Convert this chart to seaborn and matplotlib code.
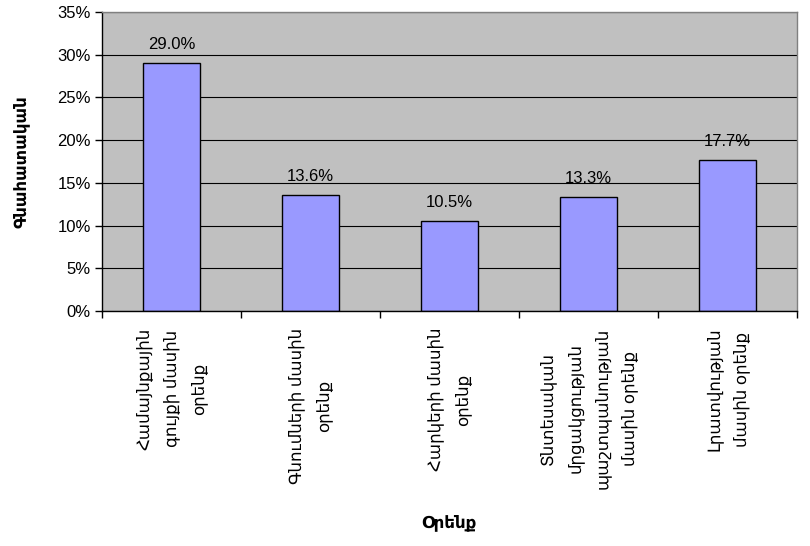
import matplotlib
matplotlib.use("Agg")
import matplotlib.pyplot as plt
import seaborn as sns
import pandas as pd
from matplotlib.ticker import PercentFormatter, FixedLocator

# Laws surveyed and the share of ratings each received (%)
laws = [
    "Համայնքային\nգույքի մասին\nօրենք",
    "Գնումների մասին\nօրենք",
    "Հարկերի մասին\nօրենք",
    "Տնտեսական\nմրցակցության\nպաշտպանության\nմասին օրենք",
    "Լրատվության\nմասին օրենք",
]
shares = [29.0, 13.6, 10.5, 13.3, 17.7]
y_ticks = [0, 5, 10, 15, 20, 25, 30, 35]
x_title = "Օրենք"
y_title = "Գնահատական"

sns.set_theme(style="white")
plt.rcParams["font.family"] = ["Liberation Sans", "DejaVu Sans"]
plt.rcParams.update({
    "text.color": "black",
    "axes.labelcolor": "black",
    "xtick.color": "black",
    "ytick.color": "black",
})

fig = plt.figure(figsize=(8.1, 5.46), dpi=100)
ax = fig.add_axes([102 / 810, 1 - 311 / 546, 695 / 810, 299 / 546])

df = pd.DataFrame({"law": laws, "share": shares})
sns.barplot(data=df, x="law", y="share", color="#9999FF", saturation=1,
            edgecolor="black", linewidth=1, width=0.41, ax=ax)

ax.set_facecolor("#C0C0C0")
ax.set_xlim(-0.5, len(laws) - 0.5)
ax.set_ylim(y_ticks[0], y_ticks[-1])
ax.set_yticks(y_ticks)
ax.yaxis.set_major_formatter(PercentFormatter(decimals=0))
ax.grid(axis="y", color="black", linewidth=0.8)
ax.set_axisbelow(True)

for side in ["left", "bottom"]:
    ax.spines[side].set_color("black")
    ax.spines[side].set_linewidth(1)
for side in ["top", "right"]:
    ax.spines[side].set_color("#808080")
    ax.spines[side].set_linewidth(1)

# category labels at bar centres, tick marks between categories
ax.set_xticks(range(len(laws)))
ax.set_xticklabels(laws, rotation=90, fontsize=12, va="top", ha="center",
                   multialignment="center", linespacing=1.8, color="black")
ax.xaxis.set_minor_locator(FixedLocator([i - 0.5 for i in range(len(laws) + 1)]))
ax.tick_params(axis="x", which="major", length=0, pad=12)
ax.tick_params(axis="x", which="minor", length=5, width=1, color="black",
               direction="out", bottom=True)
ax.tick_params(axis="y", length=5, width=1, color="black", direction="out",
               left=True, labelsize=12, pad=3, labelcolor="black")

ax.bar_label(ax.containers[0], labels=[f"{v:.1f}%" for v in shares],
             padding=8, fontsize=12, color="black")

ax.set_xlabel(x_title, fontsize=12, fontweight="bold")
ax.set_ylabel(y_title, fontsize=12, fontweight="bold")
ax.xaxis.set_label_coords(0.499, -0.68)
ax.yaxis.set_label_coords(-0.105, 0.5)

fig.savefig("out.png", dpi=100, facecolor="white")
